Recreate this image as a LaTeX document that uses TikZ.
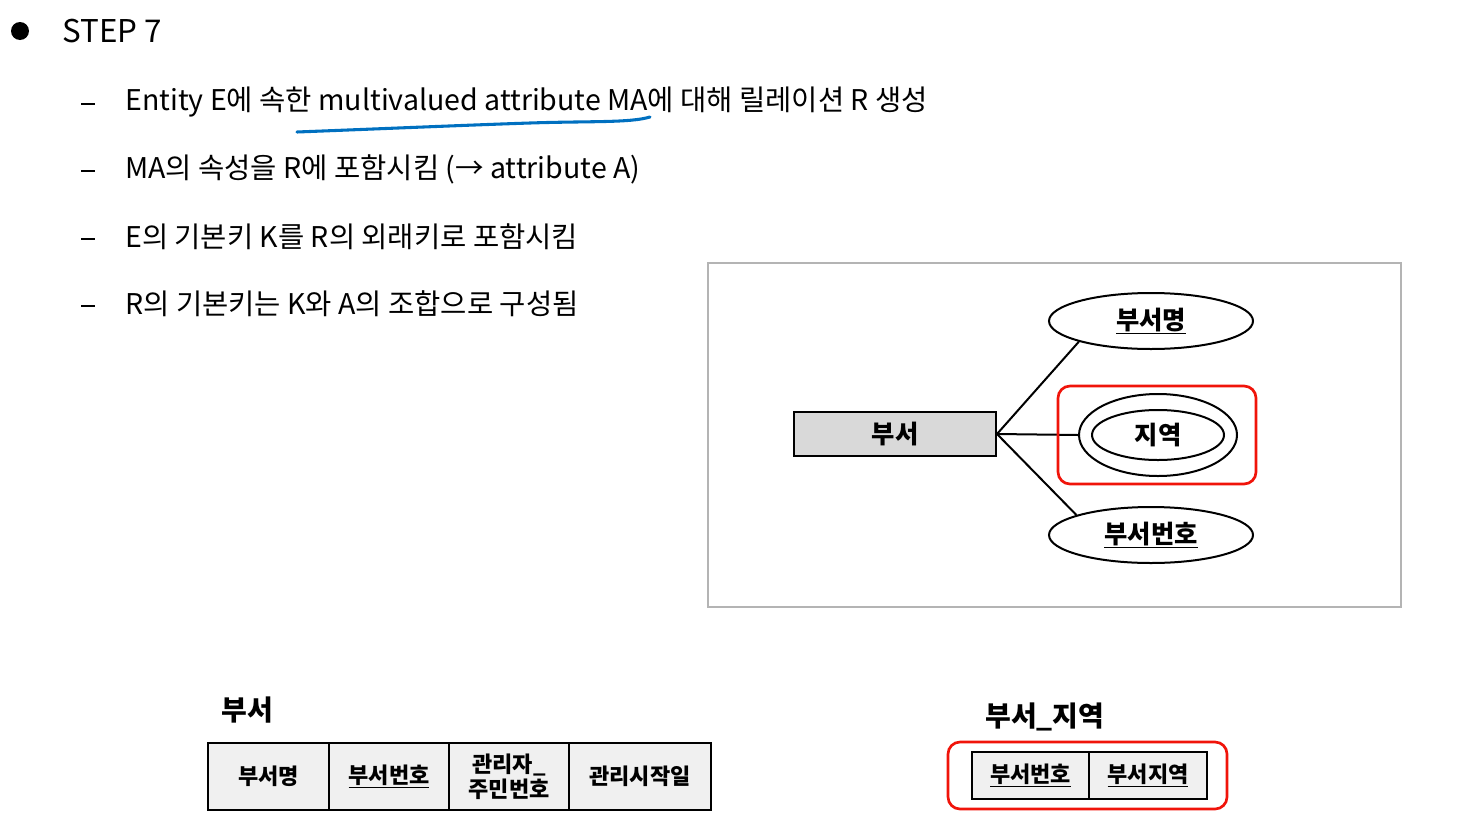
\documentclass[tikz,border=0pt]{standalone}
\usepackage{fontspec}
\setmainfont{Noto Sans CJK KR}
\usetikzlibrary{shapes.geometric}
\definecolor{penblue}{RGB}{0,112,192}
\definecolor{framegray}{RGB}{180,180,180}
\definecolor{entfill}{RGB}{217,217,217}
\definecolor{cellfill}{RGB}{240,240,240}
\definecolor{hilite}{RGB}{240,20,10}
\tikzset{
  body/.style={anchor=west, inner sep=0pt, font=\fontsize{21.4}{24}\selectfont},
  dashmark/.style={draw, line width=1.3pt},
  attr/.style={ellipse, draw, line width=1.5pt, fill=white, inner sep=0pt,
    minimum width={204*0.75pt}, minimum height={56*0.75pt}, font=\fontsize{19}{22}\selectfont\bfseries},
  entbox/.style={draw, line width=1.5pt, fill=entfill, inner sep=0pt,
    minimum width={202*0.75pt}, minimum height={44*0.75pt}, font=\fontsize{19}{22}\selectfont\bfseries},
  conn/.style={line width=1.5pt},
  cell/.style={draw, line width=1.5pt, fill=cellfill, inner sep=0pt, align=center,
    font=\fontsize{16.5}{19}\selectfont\bfseries},
  ttl/.style={inner sep=0pt, font=\fontsize{21}{24}\selectfont\bfseries},
  redbox/.style={draw=hilite, line width=2pt, rounded corners=9pt},
}
\begin{document}
\begin{tikzpicture}[x=0.75pt,y=-0.75pt]
\useasboundingbox (0,0) rectangle (1470,839);
% header
\fill (20,31) circle (9);
\node[anchor=west, inner sep=0pt, font=\fontsize{23.5}{26}\selectfont] (step) at (62,31) {STEP 7};
% bullet lines
\coordinate (d1a) at (81,104); \coordinate (d1b) at (95,104);
\draw[dashmark] (d1a) -- (d1b);
\node[body] (t1) at (125,102) {Entity E에 속한 multivalued attribute MA에 대해 릴레이션 R 생성};
\coordinate (d2a) at (81,171); \coordinate (d2b) at (95,171);
\draw[dashmark] (d2a) -- (d2b);
\node[body] (t2) at (125,169) {MA의 속성을 R에 포함시킴 (→ attribute A)};
\coordinate (d3a) at (81,239); \coordinate (d3b) at (95,239);
\draw[dashmark] (d3a) -- (d3b);
\node[body] (t3) at (125,237) {E의 기본키 K를 R의 외래키로 포함시킴};
\coordinate (d4a) at (81,306); \coordinate (d4b) at (95,306);
\draw[dashmark] (d4a) -- (d4b);
\node[body] (t4) at (125,304) {R의 기본키는 K와 A의 조합으로 구성됨};
% hand-drawn underline
\draw[penblue, line width=2.3pt, line cap=round]
  (297,132) .. controls (400,128) and (470,125) .. (530,123)
  .. controls (590,121) and (630,123) .. (650,117);
% ER frame
\draw[framegray, line width=1.5pt] (708,263) rectangle (1401,607);
\node[entbox] (ent) at (895,434) {부서};
\node[attr] (a1) at (1151,321) {\underline{부서명}};
\node[attr] (a3) at (1151,535) {\underline{부서번호}};
\node[ellipse, draw, line width=1.5pt, inner sep=0pt, minimum width={158*0.75pt}, minimum height={82*0.75pt}] (mv) at (1158,435) {};
\node[ellipse, draw, line width=1.5pt, inner sep=0pt, minimum width={132*0.75pt}, minimum height={50*0.75pt}, font=\fontsize{19}{22}\selectfont\bfseries] (mvin) at (1158,435) {지역};
\draw[conn] (ent.east) -- (a1.196);
\draw[conn] (ent.east) -- (mv.west);
\draw[conn] (ent.east) -- (a3.165);
\draw[redbox] (1058,386) rectangle (1256,484);
% table 1
\node[ttl, anchor=west] (tt1) at (221,710) {부서};
\node[cell, minimum width={121*0.75pt}, minimum height={67*0.75pt}] (c1) at (268.5,776.5) {부서명};
\node[cell, minimum width={120*0.75pt}, minimum height={67*0.75pt}] (c2) at (389,776.5) {\underline{부서번호}};
\node[cell, minimum width={120*0.75pt}, minimum height={67*0.75pt}] (c3) at (509,776.5) {관리자\_\\주민번호};
\node[cell, minimum width={142*0.75pt}, minimum height={67*0.75pt}] (c4) at (640,776.5) {관리시작일};
% table 2
\node[ttl, anchor=west] (tt2) at (985,717) {부서\_지역};
\node[cell, minimum width={117*0.75pt}, minimum height={47*0.75pt}] (e1) at (1030.5,775.5) {\underline{부서번호}};
\node[cell, minimum width={118*0.75pt}, minimum height={47*0.75pt}] (e2) at (1148,775.5) {\underline{부서지역}};
\draw[redbox] (948,742) rectangle (1227,809);
\end{tikzpicture}
\end{document}
